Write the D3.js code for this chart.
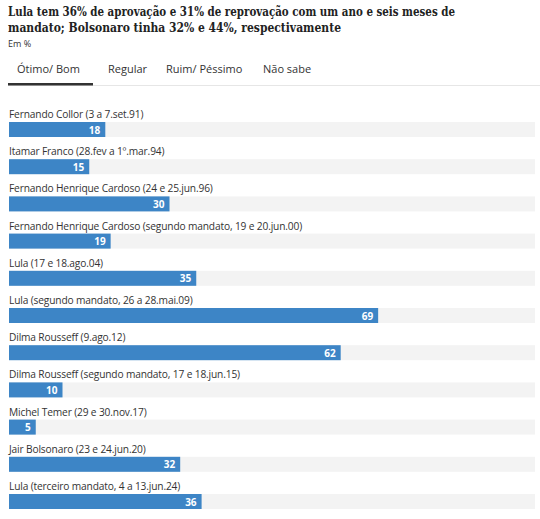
<!DOCTYPE html>
<html><head><meta charset="utf-8">
<script src="https://cdn.jsdelivr.net/npm/d3@7"></script>
<style>body{margin:0;background:#fff}</style>
</head><body>
<svg id="c" width="540" height="519"></svg>
<script>
var labels = ["Fernando Collor (3 a 7.set.91)","Itamar Franco (28.fev a 1º.mar.94)","Fernando Henrique Cardoso (24 e 25.jun.96)","Fernando Henrique Cardoso (segundo mandato, 19 e 20.jun.00)","Lula (17 e 18.ago.04)","Lula (segundo mandato, 26 a 28.mai.09)","Dilma Rousseff (9.ago.12)","Dilma Rousseff (segundo mandato, 17 e 18.jun.15)","Michel Temer (29 e 30.nov.17)","Jair Bolsonaro (23 e 24.jun.20)","Lula (terceiro mandato, 4 a 13.jun.24)"];
var values = [18,15,30,19,35,69,62,10,5,32,36];
var tabs = ["Ótimo/ Bom","Regular","Ruim/ Péssimo","Não sabe"];
var tabX = [17,108,166,263];

var svg = d3.select("#c");
var sans = "'Open Sans', sans-serif";
function title(t, yy, w) {
  svg.append("text").attr("x",8).attr("y",yy).attr("font-family","'DejaVu Serif', serif").attr("font-weight","bold")
    .attr("font-size",12.5).attr("fill","#222").attr("textLength",w).attr("lengthAdjust","spacingAndGlyphs").text(t);
}
title("Lula tem 36% de aprovação e 31% de reprovação com um ano e seis meses de", 16, 447);
title("mandato; Bolsonaro tinha 32% e 44%, respectivamente", 32, 333);
svg.append("text").attr("x",8).attr("y",47).attr("font-family",sans).attr("font-size",9).attr("fill","#333").text("Em %");

svg.selectAll(".tab").data(tabs).enter().append("text").attr("x",function(d,i){return tabX[i];}).attr("y",73)
  .attr("font-family",sans).attr("font-size",11).attr("fill","#333").text(function(d){return d;});
svg.append("rect").attr("x",8).attr("y",85).attr("width",532).attr("height",1).attr("fill","#e6e6e6");
svg.append("rect").attr("x",8).attr("y",83).attr("width",85).attr("height",2.5).attr("fill","#333");

var x = d3.scaleLinear().domain([0,100]).range([9,544]);
var y = d3.scaleLinear().domain([0,10]).range([122,494]);

var row = svg.selectAll(".row").data(values).enter().append("g").attr("transform",function(d,i){return "translate(0,"+y(i)+")";});
row.append("text").attr("x",9).attr("y",-4).attr("font-family",sans).attr("font-size",10.2).attr("letter-spacing",-0.15).attr("fill","#333").text(function(d,i){return labels[i];});
row.append("rect").attr("x",9).attr("y",0).attr("width",535-9).attr("height",15).attr("fill","#f3f3f3");
row.append("rect").attr("x",9).attr("y",0).attr("width",function(d){return x(d)-x(0);}).attr("height",15).attr("fill","#3d85c6");
row.append("text").attr("x",function(d){return x(d)-5;}).attr("y",11.5).attr("text-anchor","end").attr("font-family",sans).attr("font-size",10).attr("font-weight","bold").attr("fill","#fff").text(function(d){return d;});
</script>
</body></html>
